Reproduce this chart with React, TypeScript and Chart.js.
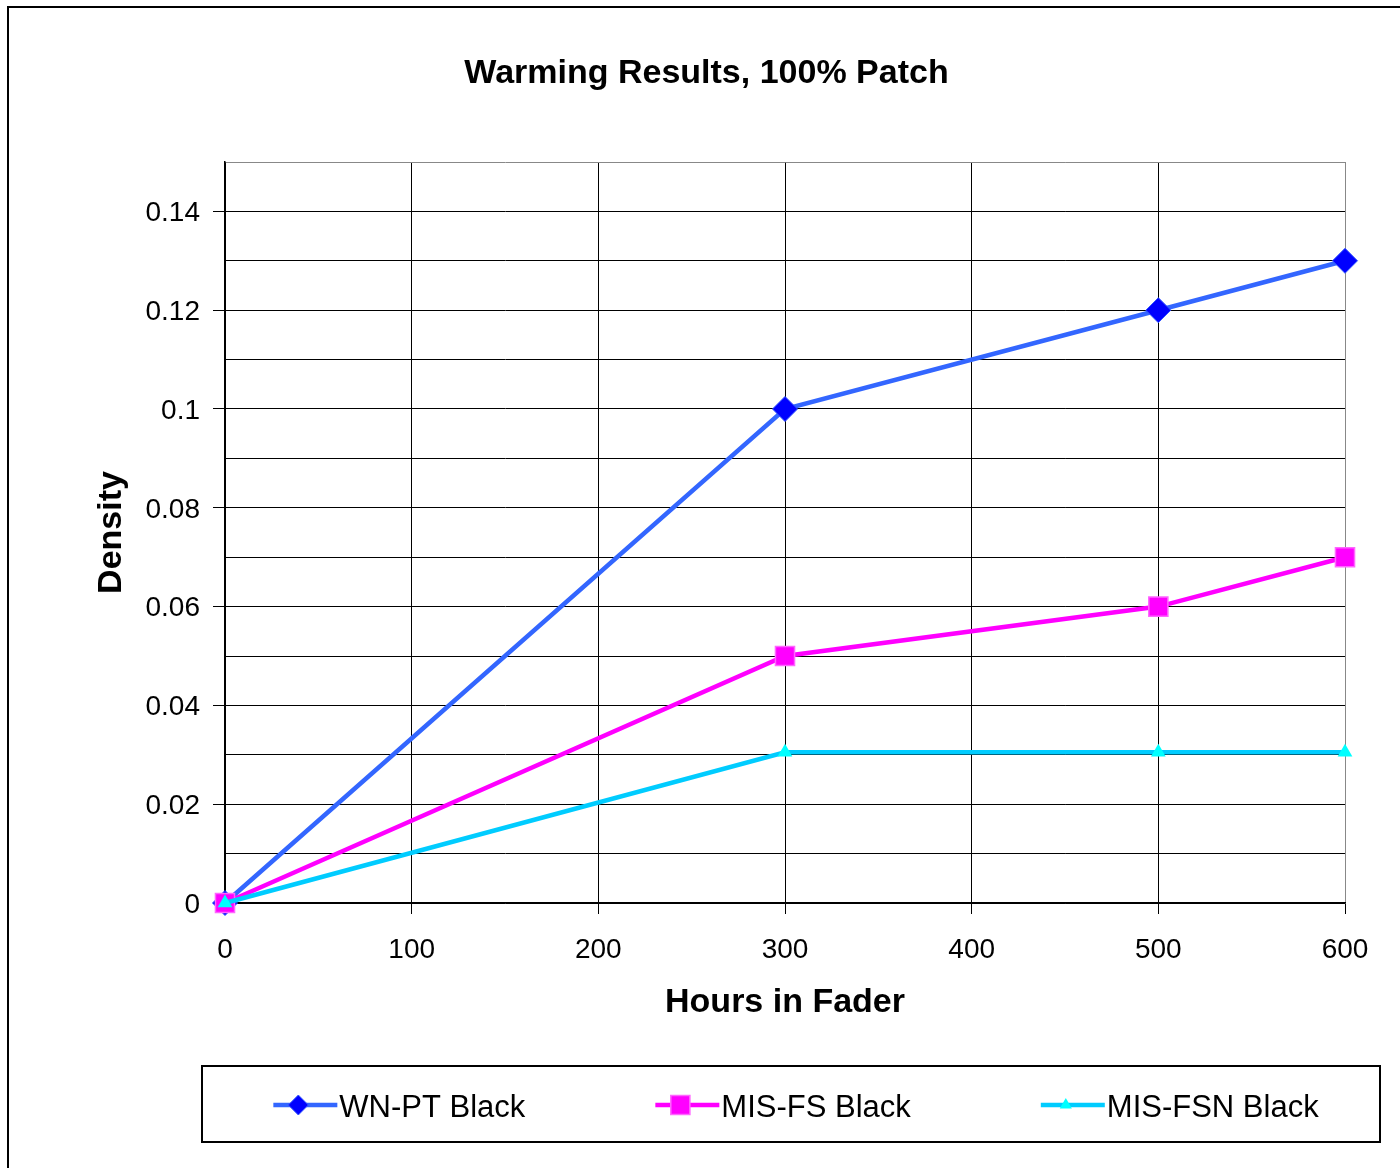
import React, { useEffect, useRef } from 'react';
import { Chart, registerables } from 'chart.js';

Chart.register(...registerables);

const hours = [0, 300, 500, 600];
const wnptBlack = [0, 0.1, 0.12, 0.13];
const misfsBlack = [0, 0.05, 0.06, 0.07];
const misfsnBlack = [0, 0.0305, 0.0305, 0.0305];
const seriesNames = ['WN-PT Black', 'MIS-FS Black', 'MIS-FSN Black'];
const yTickLabels = ['0', '0.02', '0.04', '0.06', '0.08', '0.1', '0.12', '0.14'];

const FONT = '"Liberation Sans", Arial, Helvetica, sans-serif';

function drawMarker(ctx: CanvasRenderingContext2D, style: string, x: number, y: number, r: number, fill: string, stroke: string, bw: number) {
  ctx.beginPath();
  if (style === 'rectRot') {
    ctx.moveTo(x, y - r);
    ctx.lineTo(x + r, y);
    ctx.lineTo(x, y + r);
    ctx.lineTo(x - r, y);
    ctx.closePath();
  } else if (style === 'rect') {
    const s = Math.SQRT1_2 * r;
    ctx.rect(x - s, y - s, 2 * s, 2 * s);
  } else {
    const a = (2 * Math.PI) / 3;
    ctx.moveTo(x, y - r);
    ctx.lineTo(x + Math.sin(a) * r, y - Math.cos(a) * r);
    ctx.lineTo(x + Math.sin(2 * a) * r, y - Math.cos(2 * a) * r);
    ctx.closePath();
  }
  ctx.fillStyle = fill;
  ctx.fill();
  if (bw > 0) {
    ctx.lineWidth = bw;
    ctx.strokeStyle = stroke;
    ctx.stroke();
  }
}

const boxLegend = {
  id: 'boxLegend',
  afterDraw(chart: any) {
    const ctx: CanvasRenderingContext2D = chart.ctx;
    ctx.save();
    ctx.lineWidth = 2;
    ctx.strokeStyle = '#000';
    ctx.strokeRect(202, 1066, 1178, 76);
    ctx.font = `31px ${FONT}`;
    ctx.textBaseline = 'middle';
    ctx.textAlign = 'left';
    const items = chart.data.datasets.map((ds: any) => ({ ds, w: 66 + ctx.measureText(ds.label).width }));
    const gap = 130;
    const total = items.reduce((s: number, i: any) => s + i.w, 0) + gap * (items.length - 1);
    let x = 796 - total / 2;
    const y = 1105;
    items.forEach(({ ds, w }: any) => {
      ctx.strokeStyle = ds.borderColor;
      ctx.lineWidth = 4.5;
      ctx.beginPath();
      ctx.moveTo(x, y);
      ctx.lineTo(x + 64, y);
      ctx.stroke();
      drawMarker(ctx, ds.pointStyle, x + 25, y, ds.legendRadius, ds.pointBackgroundColor, ds.pointBorderColor, ds.pointBorderWidth);
      ctx.fillStyle = '#000';
      ctx.fillText(ds.label, x + 66, y + 3);
      x += w + gap;
    });
    ctx.restore();
  },
};

export default function App() {
  const ref = useRef<HTMLCanvasElement>(null);

  useEffect(() => {
    if (!ref.current) return;
    Chart.defaults.font.family = FONT;
    Chart.defaults.color = '#000';
    const toPts = (vals: number[]) => hours.map((h, i) => ({ x: h, y: vals[i] }));
    const chart = new Chart(ref.current, {
      type: 'line',
      data: {
        datasets: [
          {
            label: seriesNames[0],
            data: toPts(wnptBlack),
            borderColor: '#3366FF',
            borderWidth: 4.5,
            pointStyle: 'rectRot',
            pointRadius: 12.5,
            legendRadius: 10,
            pointBackgroundColor: '#0000FF',
            pointBorderColor: '#3355FF',
            pointBorderWidth: 1,
            tension: 0,
            clip: false,
            order: 3,
          } as any,
          {
            label: seriesNames[1],
            data: toPts(misfsBlack),
            borderColor: '#FF00FF',
            borderWidth: 4.5,
            pointStyle: 'rect',
            pointRadius: 13.5,
            legendRadius: 13.5,
            pointBackgroundColor: '#FF00FF',
            pointBorderColor: '#FF66FF',
            pointBorderWidth: 1.5,
            tension: 0,
            clip: false,
            order: 2,
          } as any,
          {
            label: seriesNames[2],
            data: toPts(misfsnBlack),
            borderColor: '#00CCFF',
            borderWidth: 4.5,
            pointStyle: 'triangle',
            pointRadius: 8.5,
            legendRadius: 7,
            pointBackgroundColor: '#00FFFF',
            pointBorderColor: '#00FFFF',
            pointBorderWidth: 0,
            tension: 0,
            clip: false,
            order: 1,
          } as any,
        ],
      },
      options: {
        responsive: false,
        animation: false,
        events: [],
        layout: { padding: { top: 0, left: 68, right: 55, bottom: 145 } },
        plugins: {
          legend: { display: false },
          tooltip: { enabled: false },
          title: {
            display: true,
            text: 'Warming Results, 100% Patch',
            color: '#000',
            font: { size: 34, weight: 'bold', family: FONT, lineHeight: 1.2 },
            padding: { top: 53.6, bottom: 67.6 },
          },
        },
        scales: {
          x: {
            type: 'linear',
            min: 0,
            max: 600,
            afterFit: (s: any) => {
              s.height = 120;
            },
            ticks: {
              stepSize: 100,
              padding: 19,
              color: '#000',
              font: { size: 28, family: FONT, lineHeight: 1.2 },
              maxRotation: 0,
            },
            grid: {
              color: (c: any) => (c.tick && c.tick.value === 600 ? '#888888' : '#000000'),
              tickColor: '#000',
              tickLength: 11,
              lineWidth: 1,
            },
            border: { color: '#000', width: 1.5 },
            title: {
              display: true,
              text: 'Hours in Fader',
              color: '#000',
              font: { size: 34, weight: 'bold', family: FONT, lineHeight: 1.2 },
              padding: { top: 0, bottom: 0 },
            },
          },
          y: {
            type: 'linear',
            min: 0,
            max: 0.15,
            afterFit: (s: any) => {
              s.width = 157;
            },
            ticks: {
              stepSize: 0.01,
              padding: 13,
              labelOffset: 2,
              color: '#000',
              font: { size: 28, family: FONT, lineHeight: 1.2 },
              callback: (v: any) => {
                const k = Math.round(Number(v) * 100);
                if (k % 2 !== 0) return '';
                return yTickLabels[k / 2] ?? '';
              },
            },
            grid: {
              color: (c: any) => (c.tick && Math.round(c.tick.value * 100) === 15 ? '#888888' : '#000000'),
              tickColor: (c: any) => (c.tick && Math.round(c.tick.value * 100) % 2 !== 0 ? 'rgba(0,0,0,0)' : '#000000'),
              tickLength: 12,
              lineWidth: 1,
            },
            border: { color: '#000', width: 1.5 },
            title: {
              display: true,
              text: 'Density',
              color: '#000',
              font: { size: 34, weight: 'bold', family: FONT, lineHeight: 1.2 },
              padding: { top: 23.6, bottom: 0 },
            },
          },
        },
      } as any,
      plugins: [boxLegend],
    });
    return () => chart.destroy();
  }, []);

  return (
    <div style={{ position: 'absolute', left: 0, top: 0, width: 1400, height: 1168, overflow: 'hidden', background: '#fff' }}>
      <div
        style={{
          position: 'absolute',
          left: 7,
          top: 6,
          width: 1500,
          height: 1300,
          border: '2px solid #000',
          boxSizing: 'border-box',
        }}
      />
      <canvas ref={ref} width={1400} height={1168} style={{ position: 'absolute', left: 0, top: 0, width: 1400, height: 1168 }} />
    </div>
  );
}
